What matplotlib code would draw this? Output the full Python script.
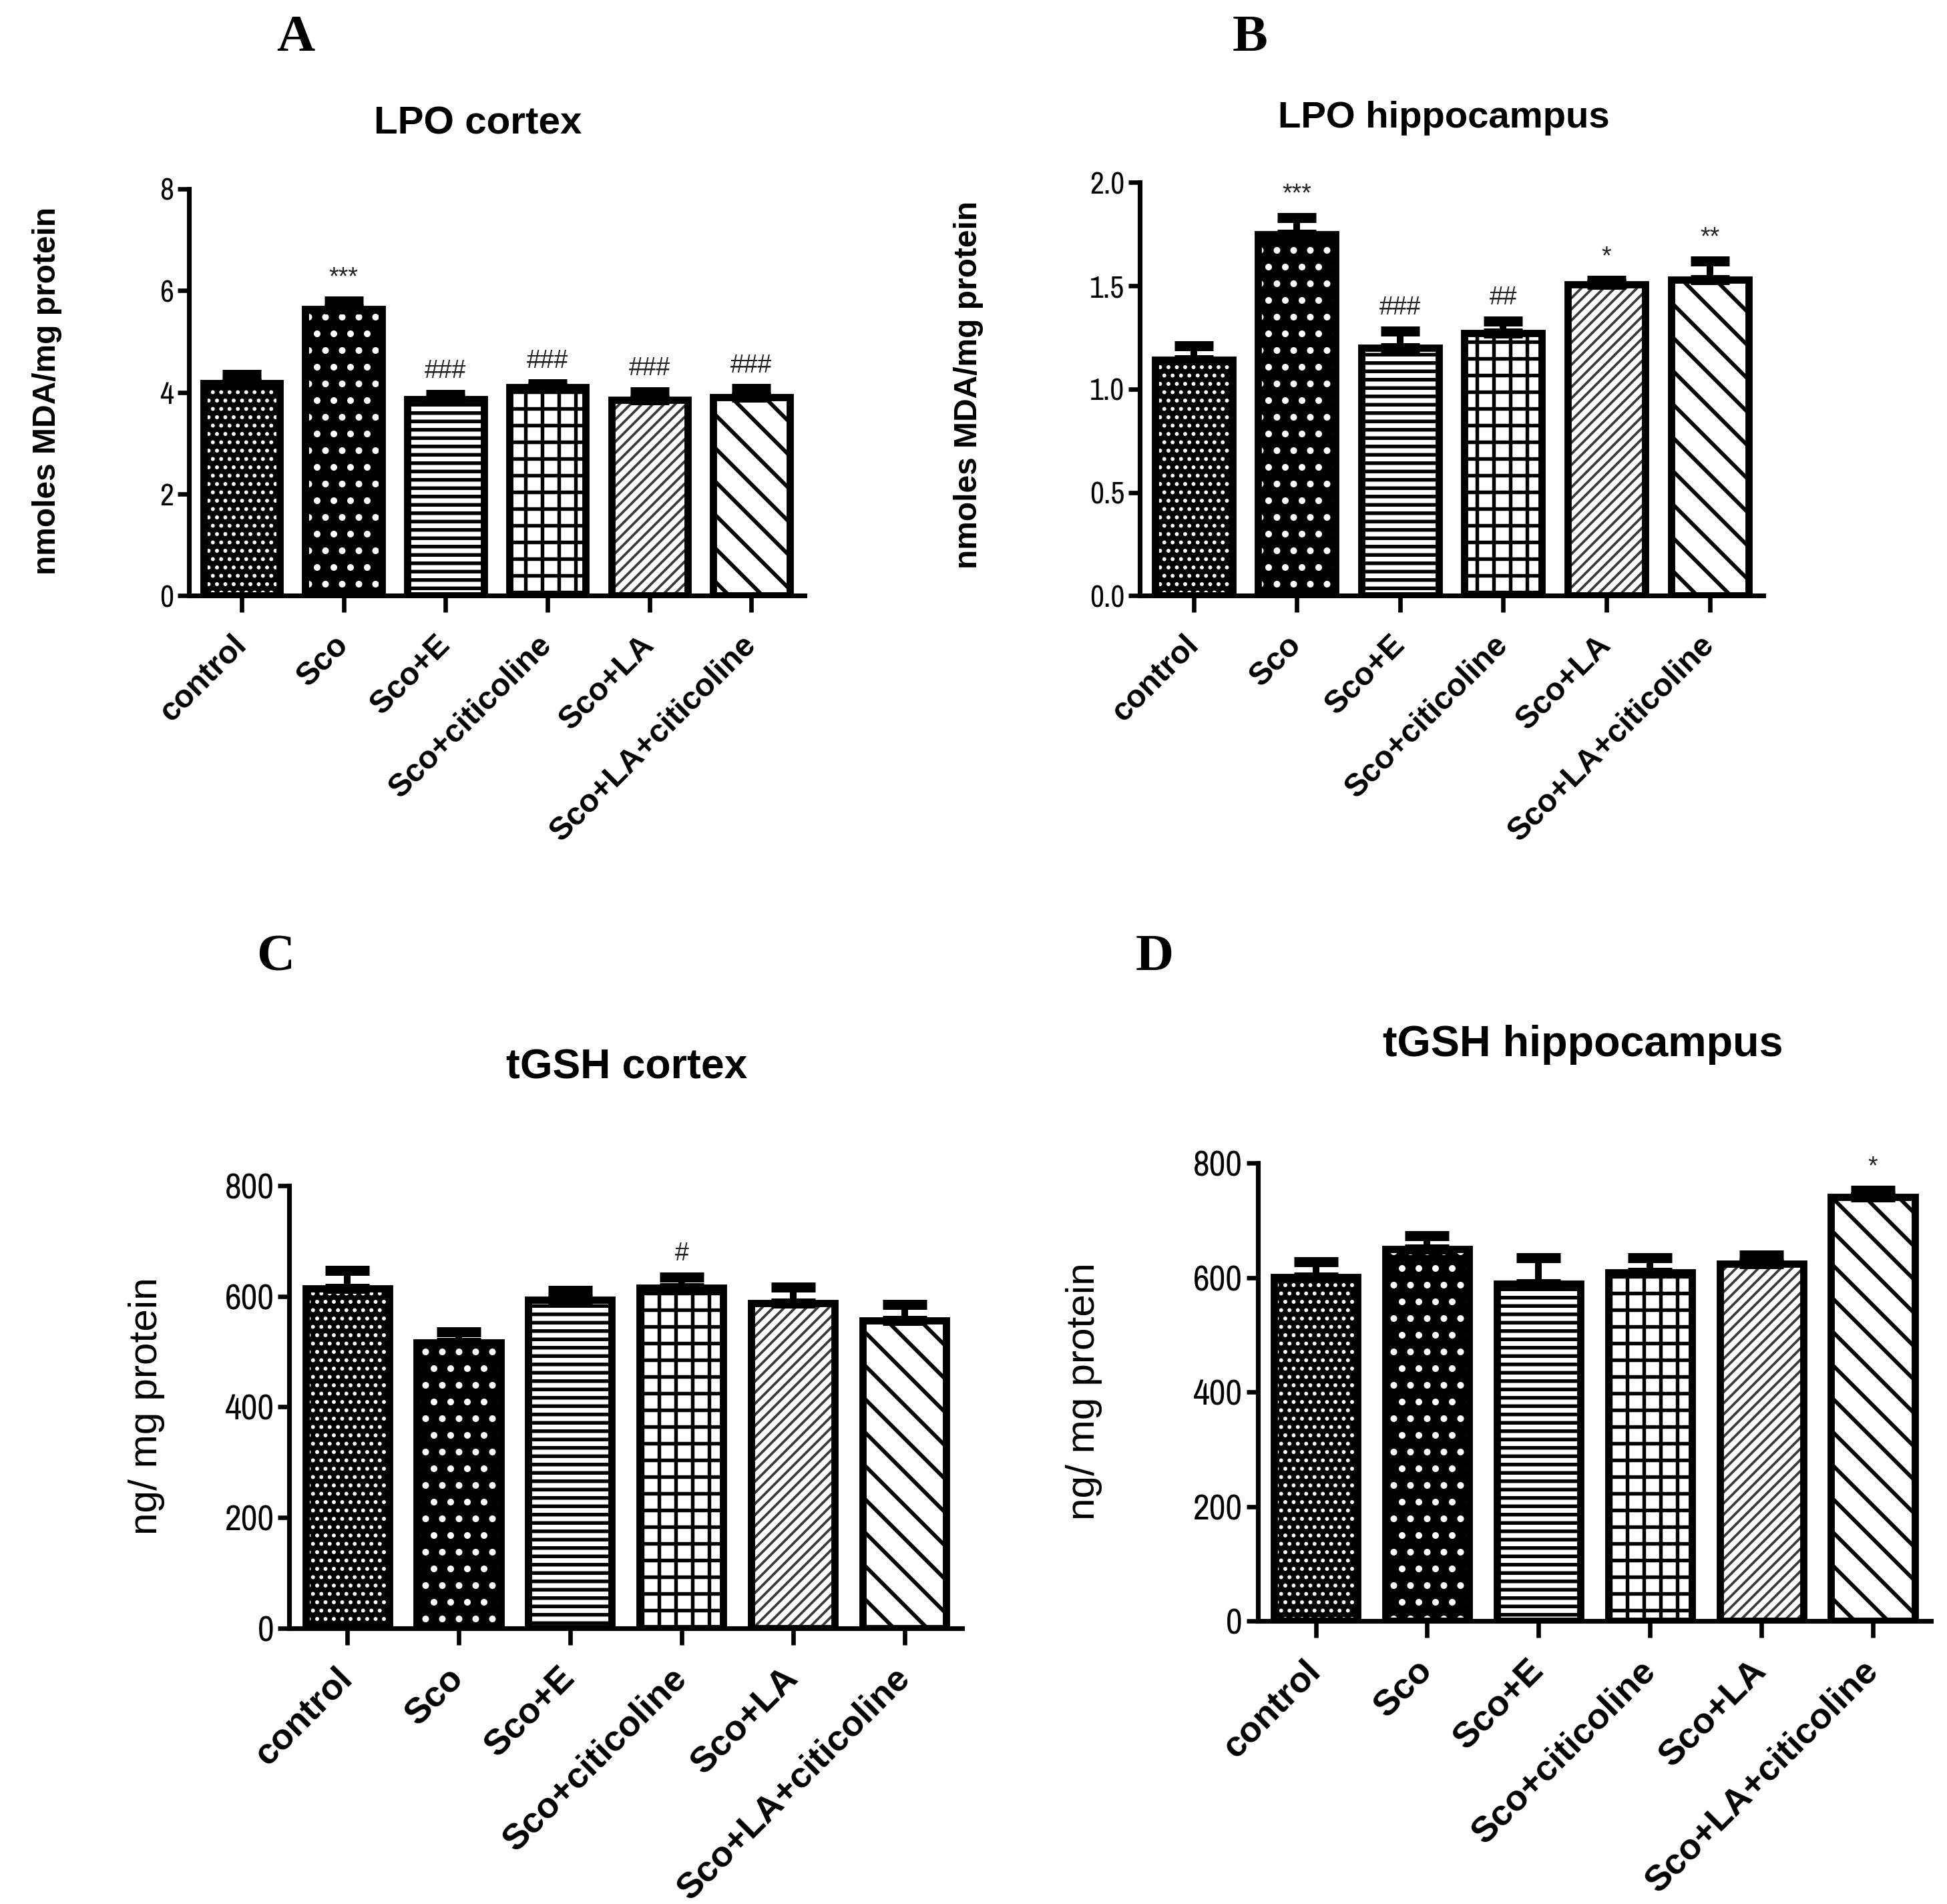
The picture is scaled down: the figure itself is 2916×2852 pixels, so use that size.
import matplotlib
matplotlib.use("Agg")
import matplotlib.pyplot as plt
from matplotlib import font_manager
import numpy as np

plt.rcParams["font.family"] = ["Liberation Sans", "DejaVu Sans"]

groups = ["control", "Sco", "Sco+E", "Sco+citicoline", "Sco+LA", "Sco+LA+citicoline"]

# A: LPO cortex (nmoles MDA/mg protein)
lpo_cortex = [4.18, 5.63, 3.86, 4.10, 3.85, 3.90]
lpo_cortex_err = [0.17, 0.16, 0.10, 0.06, 0.16, 0.17]
lpo_cortex_sig = ["", "***", "###", "###", "###", "###"]

# B: LPO hippocampus
lpo_hippo = [1.14, 1.75, 1.20, 1.27, 1.505, 1.53]
lpo_hippo_err = [0.07, 0.08, 0.08, 0.06, 0.02, 0.09]
lpo_hippo_sig = ["", "***", "###", "##", "*", "**"]

# C: tGSH cortex (ng/ mg protein)
gsh_cortex = [614, 516, 594, 615, 587, 556]
gsh_cortex_err = [33, 20, 16, 20, 29, 29]
gsh_cortex_sig = ["", "", "", "#", "", ""]

# D: tGSH hippocampus
gsh_hippo = [601, 650, 589, 609, 624, 741]
gsh_hippo_err = [27, 23, 46, 26, 15, 11]
gsh_hippo_sig = ["", "", "", "", "", "*"]

# fill, hatch, hatch colour, hatch width per group
styles = [
    ("black", "....", "white", 0.8),
    ("black", "..", "white", 1.2),
    ("white", "----", "black", 1.3),
    ("white", "++", "black", 1.3),
    ("white", "//////", "#3a3a3a", 0.9),
    ("white", "\\\\", "black", 1.4),
]

# condensed face for the tick numbers, if one is installed
narrow = next((f.name for f in font_manager.fontManager.ttflist
               if "Narrow" in f.name or "Condensed" in f.name), None)
tick_family = [narrow, "Liberation Sans"] if narrow else ["Liberation Sans"]

W, H = 2916, 2852
DPI = 300
fig = plt.figure(figsize=(W / DPI, H / DPI), dpi=DPI)


def draw_panel(rect, vals, errs, sigs, ylim, yticks, yfmt, tick_fs, xlab_fs, capsize):
    ax = fig.add_axes(rect)
    x = np.arange(len(vals))
    width = 0.75
    # hatched fill first, plain black outline on top
    for i, (fc, hatch, hc, hw) in enumerate(styles):
        plt.rcParams["hatch.linewidth"] = hw
        b = ax.bar(x[i], vals[i], width, color=fc, hatch=hatch,
                   edgecolor=hc, linewidth=0, zorder=2)
        for p in b:
            if hasattr(p, "set_hatch_linewidth"):
                p.set_hatch_linewidth(hw)
    ax.bar(x, vals, width, facecolor="none", edgecolor="black",
           linewidth=2.6, zorder=3)
    ax.errorbar(x, vals, yerr=[np.zeros(len(vals)), errs], fmt="none",
                ecolor="black", elinewidth=2.4, capsize=capsize,
                capthick=3.6, zorder=4)
    for xi, v, e, s in zip(x, vals, errs, sigs):
        if s:
            ax.annotate(s, (xi, v + e), xytext=(0, 4), textcoords="offset points",
                        ha="center", va="bottom", fontsize=9, color="#222222",
                        annotation_clip=False)

    ax.set_xlim(-0.52, len(vals) - 0.48)
    ax.set_ylim(*ylim)
    ax.set_yticks(yticks)
    ax.set_yticklabels([yfmt.format(t) for t in yticks], family=tick_family,
                       fontsize=tick_fs)
    ax.set_xticks(x)
    ax.set_xticklabels(groups, rotation=45, ha="right", va="center",
                       rotation_mode="anchor", fontsize=xlab_fs,
                       fontweight="bold")
    for side in ("top", "right"):
        ax.spines[side].set_visible(False)
    for side in ("left", "bottom"):
        ax.spines[side].set_linewidth(1.7)
    ax.tick_params(axis="y", length=4, width=1.6, pad=1.5)
    ax.tick_params(axis="x", length=6, width=1.6, pad=10)
    return ax


draw_panel([0.0969, 0.6871, 0.3163, 0.2138], lpo_cortex, lpo_cortex_err,
           lpo_cortex_sig, (0, 8), [0, 2, 4, 6, 8], "{:g}", 11, 11.5, 7)
draw_panel([0.5855, 0.6871, 0.3202, 0.2171], lpo_hippo, lpo_hippo_err,
           lpo_hippo_sig, (0, 2.0), [0, 0.5, 1.0, 1.5, 2.0], "{:.1f}", 11, 11.5, 7)
draw_panel([0.1486, 0.1447, 0.3457, 0.2327], gsh_cortex, gsh_cortex_err,
           gsh_cortex_sig, (0, 800), [0, 200, 400, 600, 800], "{:g}", 13, 13, 8)
draw_panel([0.6460, 0.1486, 0.3457, 0.2406], gsh_hippo, gsh_hippo_err,
           gsh_hippo_sig, (0, 800), [0, 200, 400, 600, 800], "{:g}", 13, 13, 8)

# panel letters
for lbl, px, py in [("A", 0.152, 0.980), ("B", 0.642, 0.980),
                    ("C", 0.1416, 0.497), ("D", 0.593, 0.497)]:
    fig.text(px, py, lbl, family="Liberation Serif", fontweight="bold",
             fontsize=19, ha="center", va="center")

# titles
for t, px, py, fs in [("LPO cortex", 0.2455, 0.9348, 14),
                      ("LPO hippocampus", 0.7417, 0.938, 13.5),
                      ("tGSH cortex", 0.322, 0.4394, 15),
                      ("tGSH hippocampus", 0.813, 0.4511, 15.5)]:
    fig.text(px, py, t, fontweight="bold", fontsize=fs, ha="center", va="center")

# y labels
fig.text(0.0242, 0.7947, "nmoles MDA/mg protein", rotation=90, fontweight="bold",
         fontsize=11.5, ha="center", va="center")
fig.text(0.4974, 0.798, "nmoles MDA/mg protein", rotation=90, fontweight="bold",
         fontsize=11.5, ha="center", va="center")
fig.text(0.0753, 0.2614, "ng/ mg protein", rotation=90, fontsize=14.5,
         ha="center", va="center")
fig.text(0.5568, 0.2692, "ng/ mg protein", rotation=90, fontsize=14.5,
         ha="center", va="center")

fig.savefig("out.png", dpi=DPI)
